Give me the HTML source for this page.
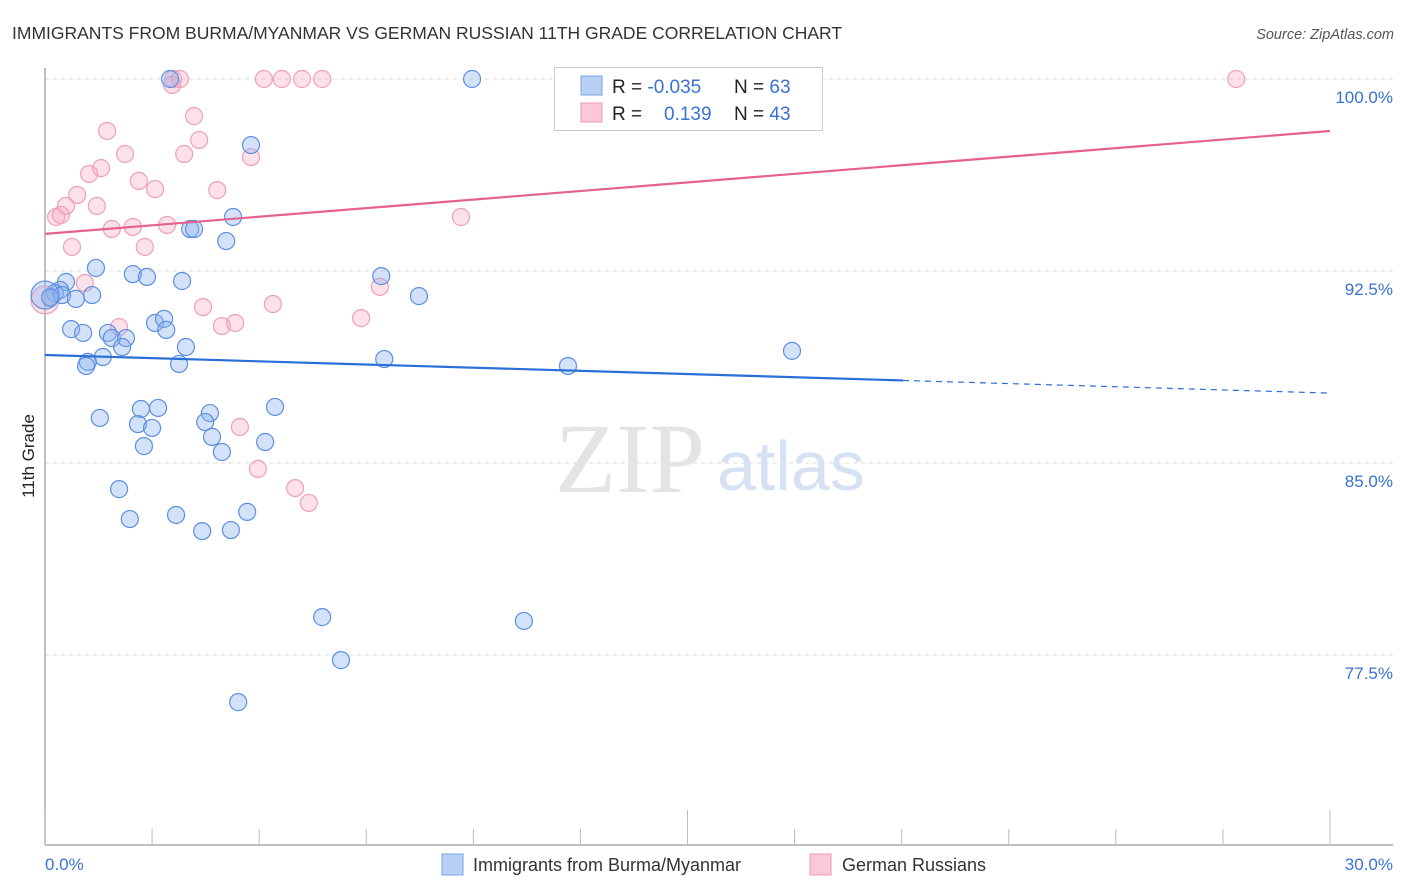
<!DOCTYPE html>
<html><head><meta charset="utf-8">
<style>
body{margin:0;background:#fff;font-family:"Liberation Sans",sans-serif;}
#wrap{position:relative;width:1406px;height:892px;overflow:hidden;}
</style></head>
<body>
<div id="wrap">
<svg id="svg" width="1406" height="892">
<text x="12" y="39" font-size="17.5" fill="#333">IMMIGRANTS FROM BURMA/MYANMAR VS GERMAN RUSSIAN 11TH GRADE CORRELATION CHART</text>
<text x="1394" y="39" font-size="14.5" fill="#555" font-style="italic" text-anchor="end">Source: ZipAtlas.com</text>
<text transform="translate(34,456) rotate(-90)" font-size="17" fill="#222" text-anchor="middle">11th Grade</text>
<g id="grid"></g>
<text x="555" y="492" font-size="100" fill="#e4e4e4" font-family="Liberation Serif,serif">ZIP</text>
<text x="717" y="490" font-size="70" fill="#d6e2f3">atlas</text>
<g id="pts"></g>
<g id="lines"></g>
<g>
<rect x="554.5" y="67.5" width="268" height="63" fill="#fff" stroke="#ccc"/>
<rect x="581" y="76" width="21" height="19" fill="#b8d0f3" stroke="#7aa3e5"/>
<rect x="581" y="103" width="21" height="19" fill="#fbc8d7" stroke="#ee9ab5"/>
<text x="612" y="93" font-size="19" fill="#222">R = <tspan fill="#3a72d2">-0.035</tspan></text>
<text x="734" y="93" font-size="19" fill="#222">N = <tspan fill="#3a72d2">63</tspan></text>
<text x="612" y="120" font-size="19" fill="#222">R = <tspan fill="#3a72d2" x="664">0.139</tspan></text>
<text x="734" y="120" font-size="19" fill="#222">N = <tspan fill="#3a72d2">43</tspan></text>
</g>
<g>
<rect x="442" y="854" width="21" height="21" fill="#b8d0f3" stroke="#7aa3e5"/>
<text x="473" y="871" font-size="18" fill="#333">Immigrants from Burma/Myanmar</text>
<rect x="810" y="854" width="21" height="21" fill="#fbc8d7" stroke="#ee9ab5"/>
<text x="842" y="871" font-size="18" fill="#333">German Russians</text>
</g>
</svg>
</div>
<script>
const yTicks=[77.5,85.0,92.5,100.0];
const yTickLabels=["77.5%","85.0%","92.5%","100.0%"];
const xTicks=[0,2.5,5,7.5,10,12.5,15,17.5,20,22.5,25,27.5,30];
const blueX=[2.92,9.97,4.81,4.39,3.39,3.48,4.23,1.19,2.05,2.38,3.20,7.85,0.49,0.35,0.23,0.12,0.40,0.72,1.10,8.73,0.61,0.89,1.47,1.56,1.89,1.80,2.57,2.78,2.83,3.29,1.35,1.00,0.96,3.13,7.92,12.21,17.44,1.28,2.24,2.64,2.17,2.50,2.31,3.85,3.74,3.90,4.13,5.37,5.14,1.73,1.98,3.06,3.67,4.34,4.72,6.47,11.18,6.91,4.51,0.12,0.0];
const blueY=[100,100,97.42,94.61,94.14,94.14,93.67,92.62,92.38,92.27,92.11,92.30,92.07,91.76,91.64,91.48,91.56,91.41,91.56,91.52,90.23,90.08,90.08,89.88,89.88,89.53,90.47,90.63,90.20,89.53,89.14,88.95,88.79,88.87,89.06,88.79,89.38,86.76,87.11,87.15,86.52,86.37,85.66,86.95,86.60,86.02,85.43,87.19,85.82,83.98,82.81,82.97,82.34,82.38,83.09,78.98,78.83,77.30,75.66,91.45,91.56];
const pinkX=[2.99,3.15,5.11,5.53,6.00,6.47,27.81,2.97,3.48,1.45,3.60,1.87,3.25,4.81,1.31,1.03,2.19,2.57,0.75,4.02,1.21,0.49,0.26,0.37,9.71,1.56,2.05,2.85,0.63,2.33,0.93,7.82,3.69,5.32,7.38,1.73,4.13,4.44,4.55,4.97,5.84,6.16,0];
const pinkY=[100,100,100,100,100,100,100,99.77,98.55,97.97,97.62,97.07,97.07,96.95,96.52,96.29,96.02,95.70,95.47,95.66,95.04,95.04,94.61,94.69,94.61,94.14,94.22,94.30,93.44,93.44,92.03,91.88,91.09,91.21,90.66,90.31,90.35,90.47,86.41,84.77,84.02,83.44,91.37];
const blueTrend=[89.22,87.73];
const pinkTrend=[93.95,97.97];
const blueSolidEnd=20.03;

const X0=45,X1=1330,Y100=79,PXPER=25.6;
const sx=v=>X0+(v/30)*(X1-X0);
const sy=v=>Y100+(100-v)*PXPER;
const NS="http://www.w3.org/2000/svg";
function mk(t,a){const e=document.createElementNS(NS,t);for(const k in a)e.setAttribute(k,a[k]);return e;}
const grid=document.getElementById('grid');
yTicks.forEach((t,i)=>{
  const l=mk('line',{x1:45,x2:1393,y1:sy(t),y2:sy(t),stroke:'#ddd','stroke-dasharray':'4,4'});
  
  
  grid.appendChild(l);
  const tx=mk('text',{x:1393,y:sy(t)+24,'font-size':17,fill:'#3a72d2','text-anchor':'end'});
  tx.textContent=yTickLabels[i];
  
  
  grid.appendChild(tx);
});
const ax=mk('line',{x1:45,x2:45,y1:68,y2:845,stroke:'#aaa','stroke-width':1.5});


grid.appendChild(ax);
const bx=mk('line',{x1:45,x2:1393,y1:845,y2:845,stroke:'#aaa','stroke-width':1.5});


grid.appendChild(bx);
xTicks.forEach((t,i)=>{
  if(t%2.5!==0)return;
  const tall=(t===0||t===15||t===30);
  if(t===2.5*Math.round(t/2.5) && (i%1===0)){
    const k=Math.round(t/2.5);
    if(k%1!==0)return;
  }
  const tk=mk('line',{x1:sx(t),x2:sx(t),y1:tall?810:829,y2:845,stroke:'#bbb'});
  
  
  grid.appendChild(tk);
});
const xl=mk('text',{x:45,y:870,'font-size':17,fill:'#3a72d2'});xl.textContent='0.0%';


grid.appendChild(xl);
const xr=mk('text',{x:1393,y:870,'font-size':17,fill:'#3a72d2','text-anchor':'end'});xr.textContent='30.0%';


grid.appendChild(xr);

const pts=document.getElementById('pts');
pinkX.forEach((x,i)=>{
  const r=(i===pinkX.length-1)?14:8.5;
  const c=mk('circle',{cx:sx(x),cy:sy(pinkY[i]),r:r,fill:'rgba(247,170,195,0.35)',stroke:'#ef9fb9','stroke-width':1.2});
  
  
  pts.appendChild(c);
});
blueX.forEach((x,i)=>{
  const r=(i===blueX.length-1)?14:8.5;
  const c=mk('circle',{cx:sx(x),cy:sy(blueY[i]),r:r,fill:'rgba(140,180,240,0.38)',stroke:'#5d8fe0','stroke-width':1.2});
  
  
  pts.appendChild(c);
});
const lines=document.getElementById('lines');
const by=x=>blueTrend[0]+(blueTrend[1]-blueTrend[0])*x/30;
const l1=mk('line',{x1:sx(0),y1:sy(by(0)),x2:sx(blueSolidEnd),y2:sy(by(blueSolidEnd)),stroke:'#2a6ed8','stroke-width':2.2});


lines.appendChild(l1);
const l2=mk('line',{x1:sx(blueSolidEnd),y1:sy(by(blueSolidEnd)),x2:sx(30),y2:sy(by(30)),stroke:'#2a6ed8','stroke-width':1.2,'stroke-dasharray':'6,5'});


lines.appendChild(l2);
const l3=mk('line',{x1:sx(0),y1:sy(pinkTrend[0]),x2:sx(30),y2:sy(pinkTrend[1]),stroke:'#e5618f','stroke-width':2.2});


lines.appendChild(l3);
</script>
</body></html>
